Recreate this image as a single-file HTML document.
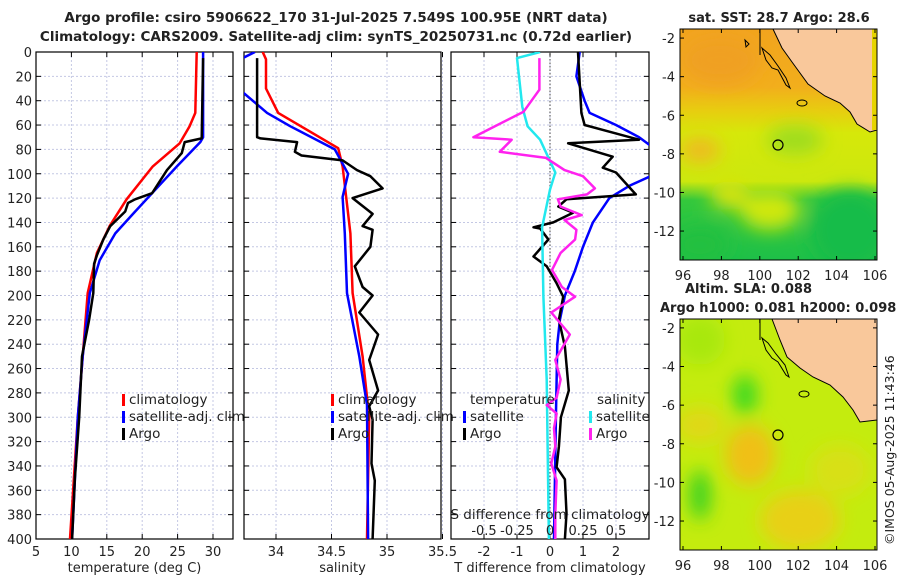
<!DOCTYPE html>
<html><head><meta charset="utf-8"><style>
body{margin:0;background:#fff}
svg text{font-family:"DejaVu Sans","Liberation Sans",sans-serif;fill:#222}
</style></head><body>
<svg id="fig" width="900" height="580" viewBox="0 0 900 580" xmlns="http://www.w3.org/2000/svg">
<defs>
<clipPath id="c1"><rect x="36" y="52" width="197" height="487"/></clipPath>
<clipPath id="c2"><rect x="244" y="52" width="197" height="487"/></clipPath>
<clipPath id="c3"><rect x="451" y="52" width="198" height="487"/></clipPath>
<clipPath id="cm1"><rect x="680" y="29" width="197" height="231"/></clipPath>
<clipPath id="cm2"><rect x="680" y="319" width="197" height="231"/></clipPath>
<filter id="bl" x="-50%" y="-50%" width="200%" height="200%"><feGaussianBlur stdDeviation="9"/></filter>
<linearGradient id="sstg" x1="0" y1="0" x2="0" y2="1">
<stop offset="0" stop-color="#f2a41e"/><stop offset="0.25" stop-color="#f2ae1c"/><stop offset="0.35" stop-color="#e8cc10"/><stop offset="0.45" stop-color="#d6e80a"/><stop offset="0.66" stop-color="#cce80e"/><stop offset="0.74" stop-color="#34c83c"/><stop offset="1" stop-color="#1ec048"/>
</linearGradient>
</defs>
<text x="336" y="22" text-anchor="middle" font-size="13.5" font-weight="bold">Argo profile: csiro 5906622_170 31-Jul-2025 7.549S 100.95E (NRT data)</text>
<text x="336" y="41" text-anchor="middle" font-size="13.5" font-weight="bold">Climatology: CARS2009. Satellite-adj clim: synTS_20250731.nc (0.72d earlier)</text>
<g id="g1"></g>
<g id="g2"></g>
<g id="g3"></g>

<!-- SST map -->
<g>
<text x="779" y="22" text-anchor="middle" font-size="13" font-weight="bold">sat. SST: 28.7 Argo: 28.6</text>
<g clip-path="url(#cm1)">
<rect x="680" y="29" width="197" height="231" fill="url(#sstg)"/>
<g filter="url(#bl)">
<ellipse cx="795" cy="140" rx="28" ry="14" fill="#9cdc20"/>
<ellipse cx="700" cy="150" rx="20" ry="12" fill="#f0b820"/>
<ellipse cx="770" cy="210" rx="30" ry="20" fill="#d0e810"/>
<ellipse cx="730" cy="195" rx="20" ry="14" fill="#d8e410"/>
<ellipse cx="850" cy="230" rx="40" ry="40" fill="#18bc48"/>
<ellipse cx="700" cy="245" rx="28" ry="20" fill="#20c040"/>
<ellipse cx="720" cy="60" rx="40" ry="25" fill="#f0a020"/>
</g>
<path d="M773,29 L782,48 L792,62 L808,84 L825,96 L840,103 L850,112 L857,124 L870,132 L877,130 L877,29 Z" fill="#f9c89b" stroke="#000" stroke-width="1"/>
<path d="M872,29 L872,130 L877,130 L877,29Z" fill="#e6d400"/>
<path d="M760,29 L760,55 M762,48 L766,60 L772,68 L778,70 L786,85 L790,88 L786,78 L778,66 L770,55 Z" fill="none" stroke="#000" stroke-width="1"/>
<ellipse cx="802" cy="103" rx="5" ry="3" fill="none" stroke="#000"/>
<path d="M745,40 l4,4 l-3,3z" fill="none" stroke="#000"/>
</g>
<rect x="680" y="29" width="197" height="231" fill="none" stroke="#000"/>
<circle cx="778" cy="145" r="5" fill="none" stroke="#000" stroke-width="1.2"/>
<g id="m1ticks"></g>
</g>

<!-- SLA map -->
<g>
<text x="685" y="293" font-size="13" font-weight="bold">Altim. SLA: 0.088</text>
<text x="660" y="312" font-size="13" font-weight="bold">Argo h1000: 0.081 h2000: 0.098</text>
<g clip-path="url(#cm2)">
<rect x="680" y="319" width="197" height="231" fill="#c4ec0e"/>
<g filter="url(#bl)">
<ellipse cx="745" cy="395" rx="12" ry="20" fill="#38d820"/>
<ellipse cx="700" cy="340" rx="25" ry="25" fill="#a8e810"/>
<ellipse cx="700" cy="495" rx="10" ry="25" fill="#30d020"/>
<ellipse cx="750" cy="455" rx="25" ry="30" fill="#f0c018"/>
<ellipse cx="700" cy="425" rx="25" ry="18" fill="#e0d818"/>
<ellipse cx="800" cy="520" rx="40" ry="30" fill="#e8d018"/>
<ellipse cx="840" cy="470" rx="30" ry="25" fill="#d8e018"/>
</g>
<path d="M772,319 L780,340 L787,357 L800,368 L813,377 L830,385 L843,397 L853,410 L860,422 L877,420 L877,319 Z" fill="#f9c89b" stroke="#000" stroke-width="1"/>
<path d="M860,319 L866,330 L872,345 L870,380 L877,390 L877,319" fill="#f9c89b"/>
<path d="M760,319 L760,340 M762,338 L766,350 L772,358 L778,362 L786,375 L789,377 L785,365 L776,354 L768,343 Z" fill="none" stroke="#000" stroke-width="1"/>
<ellipse cx="804" cy="394" rx="5" ry="3" fill="none" stroke="#000"/>
</g>
<rect x="680" y="319" width="197" height="231" fill="none" stroke="#000"/>
<circle cx="778" cy="435" r="5" fill="none" stroke="#000" stroke-width="1.2"/>
<g id="m2ticks"></g>
</g>
<text transform="translate(894,545) rotate(-90)" font-size="12.5">©IMOS 05-Aug-2025 11:43:46</text>
</svg>
<script>
// ---- data (depth in m) ----
const tempClimDepth=[0,50,61,75,94,121,143,165,198,250,300,400];
const tempClimVal=[27.7,27.5,26.7,25.3,21.5,17.8,15.4,13.6,12.3,11.6,10.9,9.8];
const tempSatDepth=[0,70,74,94,116,133,149,171,198,250,300,400];
const tempSatVal=[28.6,28.6,28.2,24.9,21.4,18.7,16.2,14.0,12.6,11.6,10.9,10.1];
const tempArgoDepth=[5,71,74,83,97,116,121,124,131,143,154,167,174,198,220,250,300,350,400];
const tempArgoVal=[28.6,28.4,26.0,25.6,23.5,21.4,19.0,18.0,17.6,15.5,14.5,13.6,13.2,13.1,12.5,11.5,11.1,10.5,10.1];

const salClimDepth=[0,6,30,50,79,94,149,198,250,300,400];
const salClimVal=[33.88,33.91,33.91,34.02,34.56,34.6,34.67,34.69,34.78,34.84,34.82];
const salSatDepth=[0,5,15,33,50,61,80,100,119,149,198,250,290,400];
const salSatVal=[33.81,33.70,33.6,33.70,33.92,34.13,34.53,34.65,34.6,34.62,34.64,34.75,34.82,34.83];
const salArgoDepth=[5,70,71,74,82,85,89,97,102,112,120,133,143,146,160,176,193,200,214,232,253,278,291,302,338,352,400];
const salArgoVal=[33.83,33.83,33.86,34.19,34.17,34.23,34.6,34.73,34.85,34.96,34.69,34.87,34.78,34.87,34.85,34.71,34.78,34.87,34.75,34.92,34.84,34.92,34.84,34.87,34.86,34.89,34.87];

const dTSatDepth=[0,20,40,50,60,70,80,100,110,120,140,160,180,200,220,240,300,400];
const dTSatVal=[0.9,0.8,1.05,1.2,2.0,2.7,3.2,3.2,2.4,1.8,1.3,1.0,0.75,0.45,0.3,0.22,0.18,0.12];
const dTArgoDepth=[0,50,60,72,75,86,95,99,117,121,127,132,140,144,145,154,168,176,190,201,220,242,278,300,324,341,351,379,400];
const dTArgoVal=[0.85,0.95,1.05,2.7,0.55,1.9,1.6,2.0,2.6,0.5,0.25,0.7,0.1,-0.5,-0.3,-0.05,-0.5,-0.1,0.2,0.4,0.27,0.45,0.57,0.33,0.27,0.2,0.45,0.5,0.45];
const dSSatDepth=[0,5,45,61,72,99,113,144,201,269,400];
const dSSatVal=[-0.075,-0.25,-0.21,-0.17,-0.075,0.04,0.0,-0.06,-0.05,-0.025,-0.008];
const dSArgoDepth=[5,31,49,70,72,82,87,97,102,112,117,121,127,134,138,146,154,165,179,193,201,214,232,253,269,284,290,297,309,324,338,352,379,400];
const dSArgoVal=[-0.08,-0.08,-0.2,-0.58,-0.29,-0.38,-0.03,0.11,0.25,0.34,0.28,0.06,0.08,0.24,0.11,0.2,0.19,0.08,0.015,0.09,0.19,0.01,0.15,0.04,0.08,0.05,-0.025,0.05,0.03,0.04,0.01,0.05,0.04,0.04];

const depthTicks=[0,20,40,60,80,100,120,140,160,180,200,220,240,260,280,300,320,340,360,380,400];
const tempTicks=[5,10,15,20,25,30];
const salTicks=[34,34.5,35,35.5];
const salTickLabels=["34","34.5","35","35.5"];
const dTTicks=[-2,-1,0,1,2];
const dSTicks=[-0.5,-0.25,0,0.25,0.5];
const dSTickLabels=["-0.5","-0.25","0","0.25","0.5"];
const lonTicks=[96,98,100,102,104,106];
const latTicks=[-2,-4,-6,-8,-10,-12];

// ---- helpers ----
const NS="http://www.w3.org/2000/svg";
function mk(parent,tag,attrs,txt){const e=document.createElementNS(NS,tag);for(const k in attrs)e.setAttribute(k,attrs[k]);if(txt!==undefined)e.textContent=txt;parent.appendChild(e);return e;}
const TOP=52,BOT=539;
function yD(d){return TOP+d*(BOT-TOP)/400;}
function lin(a,b,p,q){return v=>p+(v-a)*(q-p)/(b-a);}

function panel(g,x0,x1,xs,ticks,labels,clip,title,showY){
  ticks.forEach(t=>{const x=xs(t);
    const gl=mk(g,'line',{x1:x,x2:x,y1:TOP,y2:BOT,stroke:'#c4c8e4','stroke-dasharray':'2,2','stroke-width':1});
    
    mk(g,'line',{x1:x,x2:x,y1:TOP,y2:TOP+5,stroke:'#000'});mk(g,'line',{x1:x,x2:x,y1:BOT,y2:BOT-5,stroke:'#000'});
  });
  depthTicks.forEach(d=>{const y=yD(d);
    if(d>0&&d<400){const gl=mk(g,'line',{x1:x0,x2:x1,y1:y,y2:y,stroke:'#c4c8e4','stroke-dasharray':'2,2','stroke-width':1});
    }
    mk(g,'line',{x1:x0,x2:x0+5,y1:y,y2:y,stroke:'#000'});mk(g,'line',{x1:x1,x2:x1-5,y1:y,y2:y,stroke:'#000'});
    if(showY){const t=mk(g,'text',{x:x0-4,y:y+5,'text-anchor':'end','font-size':13},String(d));
      }
  });
  ticks.forEach((t,i)=>{const tl=mk(g,'text',{x:xs(t),y:556,'text-anchor':'middle','font-size':13},labels[i]);
    });
  const tt=mk(g,'text',{x:(x0+x1)/2,y:572,'text-anchor':'middle','font-size':13},title);
  
  const fr=mk(g,'rect',{x:x0,y:TOP,width:x1-x0,height:BOT-TOP,fill:'none',stroke:'#000','stroke-width':1.2});
  
}
function line(g,xs,dep,val,col,w,clip,name){
  const pts=dep.map((d,i)=>xs(val[i]).toFixed(1)+','+yD(d).toFixed(1)).join(' ');
  const p=mk(g,'polyline',{points:pts,fill:'none',stroke:col,'stroke-width':w,'stroke-linejoin':'round','clip-path':'url(#'+clip+')'});
  
  
}
function legend(g,x,y,col,label,name){
  mk(g,'rect',{x:x,y:y-10,width:3,height:12,fill:col});
  const t=mk(g,'text',{x:x+7,y:y,'font-size':13.5},label);
  
  
}

// Panel 1
const g1=document.getElementById('g1');
const xT=lin(5,30,36,213);
panel(g1,36,233,xT,tempTicks,tempTicks.map(String),'c1','temperature (deg C)',true);
line(g1,xT,tempClimDepth,tempClimVal,'#ff0000',2.5,'c1','temp-climatology-line');
line(g1,xT,tempSatDepth,tempSatVal,'#0000ff',2.5,'c1','temp-satellite-clim-line');
line(g1,xT,tempArgoDepth,tempArgoVal,'#000',2.5,'c1','temp-argo-line');
legend(g1,122,404,'#ff0000','climatology','legend-climatology');
legend(g1,122,421,'#0000ff','satellite-adj. clim','legend-satellite');
legend(g1,122,438,'#000','Argo','legend-argo');

// Panel 2
const g2=document.getElementById('g2');
const xS=lin(34,35,276,387);
panel(g2,244,441,xS,salTicks,salTickLabels,'c2','salinity',false);
line(g2,xS,salClimDepth,salClimVal,'#ff0000',2.5,'c2','sal-climatology-line');
line(g2,xS,salSatDepth,salSatVal,'#0000ff',2.5,'c2','sal-satellite-clim-line');
line(g2,xS,salArgoDepth,salArgoVal,'#000',2.5,'c2','sal-argo-line');
legend(g2,331,404,'#ff0000','climatology','legend-climatology');
legend(g2,331,421,'#0000ff','satellite-adj. clim','legend-satellite');
legend(g2,331,438,'#000','Argo','legend-argo');

// Panel 3
const g3=document.getElementById('g3');
const xdT=lin(0,1,550,583);
const xdS=lin(0,0.25,550,583);
panel(g3,451,649,xdT,dTTicks,dTTicks.map(String),'c3','T difference from climatology',false);
const zl=mk(g3,'line',{x1:550,x2:550,y1:TOP,y2:BOT,stroke:'#444','stroke-dasharray':'1.5,2'});

line(g3,xdT,dTSatDepth,dTSatVal,'#0000ff',2.5,'c3','dT-satellite-line');
line(g3,xdT,dTArgoDepth,dTArgoVal,'#000',2.5,'c3','dT-argo-line');
line(g3,xdS,dSSatDepth,dSSatVal,'#22e8ee',2.5,'c3','dS-satellite-line');
line(g3,xdS,dSArgoDepth,dSArgoVal,'#ff22ee',2.5,'c3','dS-argo-line');
const lt=mk(g3,'text',{x:470,y:404,'font-size':13.5},'temperature');
const ls=mk(g3,'text',{x:597,y:404,'font-size':13.5},'salinity');
legend(g3,463,421,'#0000ff','satellite','legend-t-satellite');
legend(g3,463,438,'#000','Argo','legend-t-argo');
legend(g3,589,421,'#22e8ee','satellite','legend-s-satellite');
legend(g3,589,438,'#ff22ee','Argo','legend-s-argo');
const st=mk(g3,'text',{x:550,y:519,'text-anchor':'middle','font-size':13.5},'S difference from climatology');

dSTicks.forEach((t,i)=>{const e=mk(g3,'text',{x:xdS(t),y:535,'text-anchor':'middle','font-size':13},dSTickLabels[i]);
  });

// Map ticks
function mapTicks(id,y0,y1,latTop,latBot,labY){
  const g=document.getElementById(id);
  const xl=lin(96,106,683,875), yl=lin(latTop,latBot,y0,y1);
  lonTicks.forEach(l=>{const x=xl(l);mk(g,'line',{x1:x,x2:x,y1:y0,y2:y0+4,stroke:'#000'});mk(g,'line',{x1:x,x2:x,y1:y1,y2:y1-4,stroke:'#000'});
    const t=mk(g,'text',{x:x,y:labY,'text-anchor':'middle','font-size':13},String(l));
    });
  latTicks.forEach(l=>{const y=yl(l);mk(g,'line',{x1:680,x2:684,y1:y,y2:y,stroke:'#000'});mk(g,'line',{x1:877,x2:873,y1:y,y2:y,stroke:'#000'});
    const t=mk(g,'text',{x:675,y:y+5,'text-anchor':'end','font-size':13},String(l));
    });
}
mapTicks('m1ticks',29,260,-1.53,-13.5,280);
mapTicks('m2ticks',319,550,-1.54,-13.5,570);
</script>
</body></html>
